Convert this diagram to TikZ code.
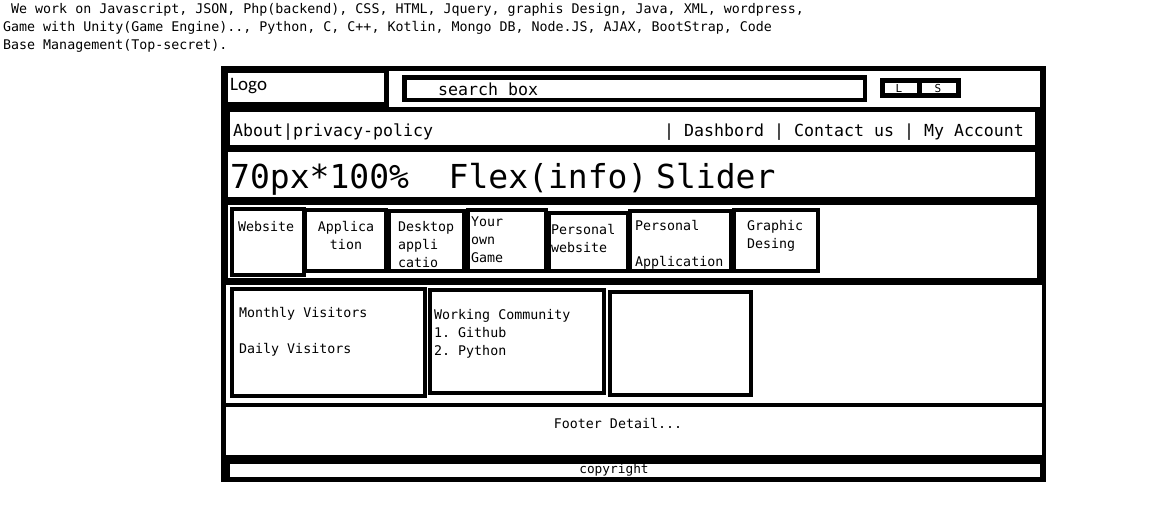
\documentclass[tikz,border=0pt]{standalone}
\usepackage{fontspec}
\setmonofont{DejaVu Sans Mono}
\newfontfamily\logofont{Carlito}
\tikzset{
  frame/.style={fill=black},
  pane/.style={fill=white},
  boxline/.style={draw=black, line width=4pt},
  txt/.style={inner sep=0pt, anchor=base west, text=black},
  ctxt/.style={inner sep=0pt, anchor=base, text=black},
  topfont/.style={font=\ttfamily\fontsize{13.3}{18}\selectfont},
  catfont/.style={font=\ttfamily\fontsize{13.3}{18}\selectfont},
  navfont/.style={font=\ttfamily\fontsize{16.6}{20}\selectfont},
  bigfont/.style={font=\ttfamily\fontsize{33}{36}\selectfont},
}
\begin{document}
\begin{tikzpicture}[x=1pt,y=-1pt]
\useasboundingbox[fill=white] (0,0) rectangle (1162,517);

% top text
\node[txt,topfont] (t1) at (3,13) {\phantom{x}We work on Javascript, JSON, Php(backend), CSS, HTML, Jquery, graphis Design, Java, XML, wordpress,};
\node[txt,topfont] (t2) at (3,31) {Game with Unity(Game Engine).., Python, C, C++, Kotlin, Mongo DB, Node.JS, AJAX, BootStrap, Code};
\node[txt,topfont] (t3) at (3,49) {Base Management(Top-secret).};

% outer frame and panes
\fill[frame] (221,66) rectangle (1046,482);
\fill[pane] (228,73) rectangle (384,102);
\fill[pane] (389,71) rectangle (1040,107);
\fill[pane] (230,112) rectangle (1035,145);
\fill[pane] (228,152) rectangle (1035,197);
\fill[pane] (228,205) rectangle (1037,278);
\fill[pane] (226,285) rectangle (1042,403);
\fill[pane] (226,407) rectangle (1042,455);
\fill[pane] (230,464) rectangle (1040,477);

% header
\node[txt,font=\logofont\fontsize{19}{22}\selectfont] (logo) at (230,90) {Logo};
\draw[draw=black, line width=4.5pt] (404.25,77.25) rectangle (864.75,99.75);
\node[txt,navfont] (search) at (438,95) {search box};
\fill[frame] (880,78) rectangle (961,98);
\fill[pane] (885,83) rectangle (917,93);
\fill[pane] (922,83) rectangle (956,93);
\node[ctxt,font=\ttfamily\fontsize{11}{12}\selectfont] (lbtn) at (899,92.5) {L};
\node[ctxt,font=\ttfamily\fontsize{11}{12}\selectfont] (sbtn) at (938,92.5) {S};

% nav
\node[txt,navfont] (navl) at (233,136) {About|privacy-policy};
\node[txt,navfont] (navr) at (664,136) {| Dashbord | Contact us | My Account};

% slider
\node[txt,bigfont] (slider1) at (230,188) {70px*100\%\ \ Flex(info)};
\node[txt,bigfont] (slider2) at (656,188) {Slider};

% categories
\draw[boxline] (232,209) rectangle (304,275);
\draw[boxline] (305,210) rectangle (386,271);
\draw[boxline] (389,211) rectangle (464,271);
\draw[boxline] (468,210) rectangle (546,271);
\draw[boxline] (549,213) rectangle (628,271);
\draw[boxline] (630,211) rectangle (731,271);
\draw[boxline] (734,210) rectangle (818,271);

\node[txt,catfont] (c1) at (238,231.5) {Website};
\node[ctxt,catfont] (c2a) at (346,231.5) {Applica};
\node[ctxt,catfont] (c2b) at (346,249.5) {tion};
\node[txt,catfont] (c3a) at (398,231.5) {Desktop};
\node[txt,catfont] (c3b) at (398,249.5) {appli};
\node[txt,catfont] (c3c) at (398,267.5) {catio};
\node[txt,catfont] (c4a) at (471,226.5) {Your};
\node[txt,catfont] (c4b) at (471,244.5) {own};
\node[txt,catfont] (c4c) at (471,262.5) {Game};
\node[txt,catfont] (c5a) at (551,234.5) {Personal};
\node[txt,catfont] (c5b) at (551,252.5) {website};
\node[txt,catfont] (c6a) at (635,230.5) {Personal};
\node[txt,catfont] (c6b) at (635,266.5) {Application};
\node[txt,catfont] (c7a) at (747,230.5) {Graphic};
\node[txt,catfont] (c7b) at (747,248.5) {Desing};

% stats
\draw[boxline] (232,289) rectangle (425,396);
\draw[boxline] (430,290) rectangle (604,393);
\draw[boxline] (610,292) rectangle (751,395);
\node[txt,catfont] (s1) at (239,317.5) {Monthly Visitors};
\node[txt,catfont] (s2) at (239,353.5) {Daily Visitors};
\node[txt,catfont] (w1) at (434,319.5) {Working Community};
\node[txt,catfont] (w2) at (434,337.5) {1. Github};
\node[txt,catfont] (w3) at (434,355.5) {2. Python};

% footer
\node[ctxt,topfont] (footer) at (618,428.5) {Footer Detail...};
\node[ctxt,font=\ttfamily\fontsize{12.8}{14}\selectfont] (copy) at (614,473) {copyright};
\end{tikzpicture}
\end{document}
